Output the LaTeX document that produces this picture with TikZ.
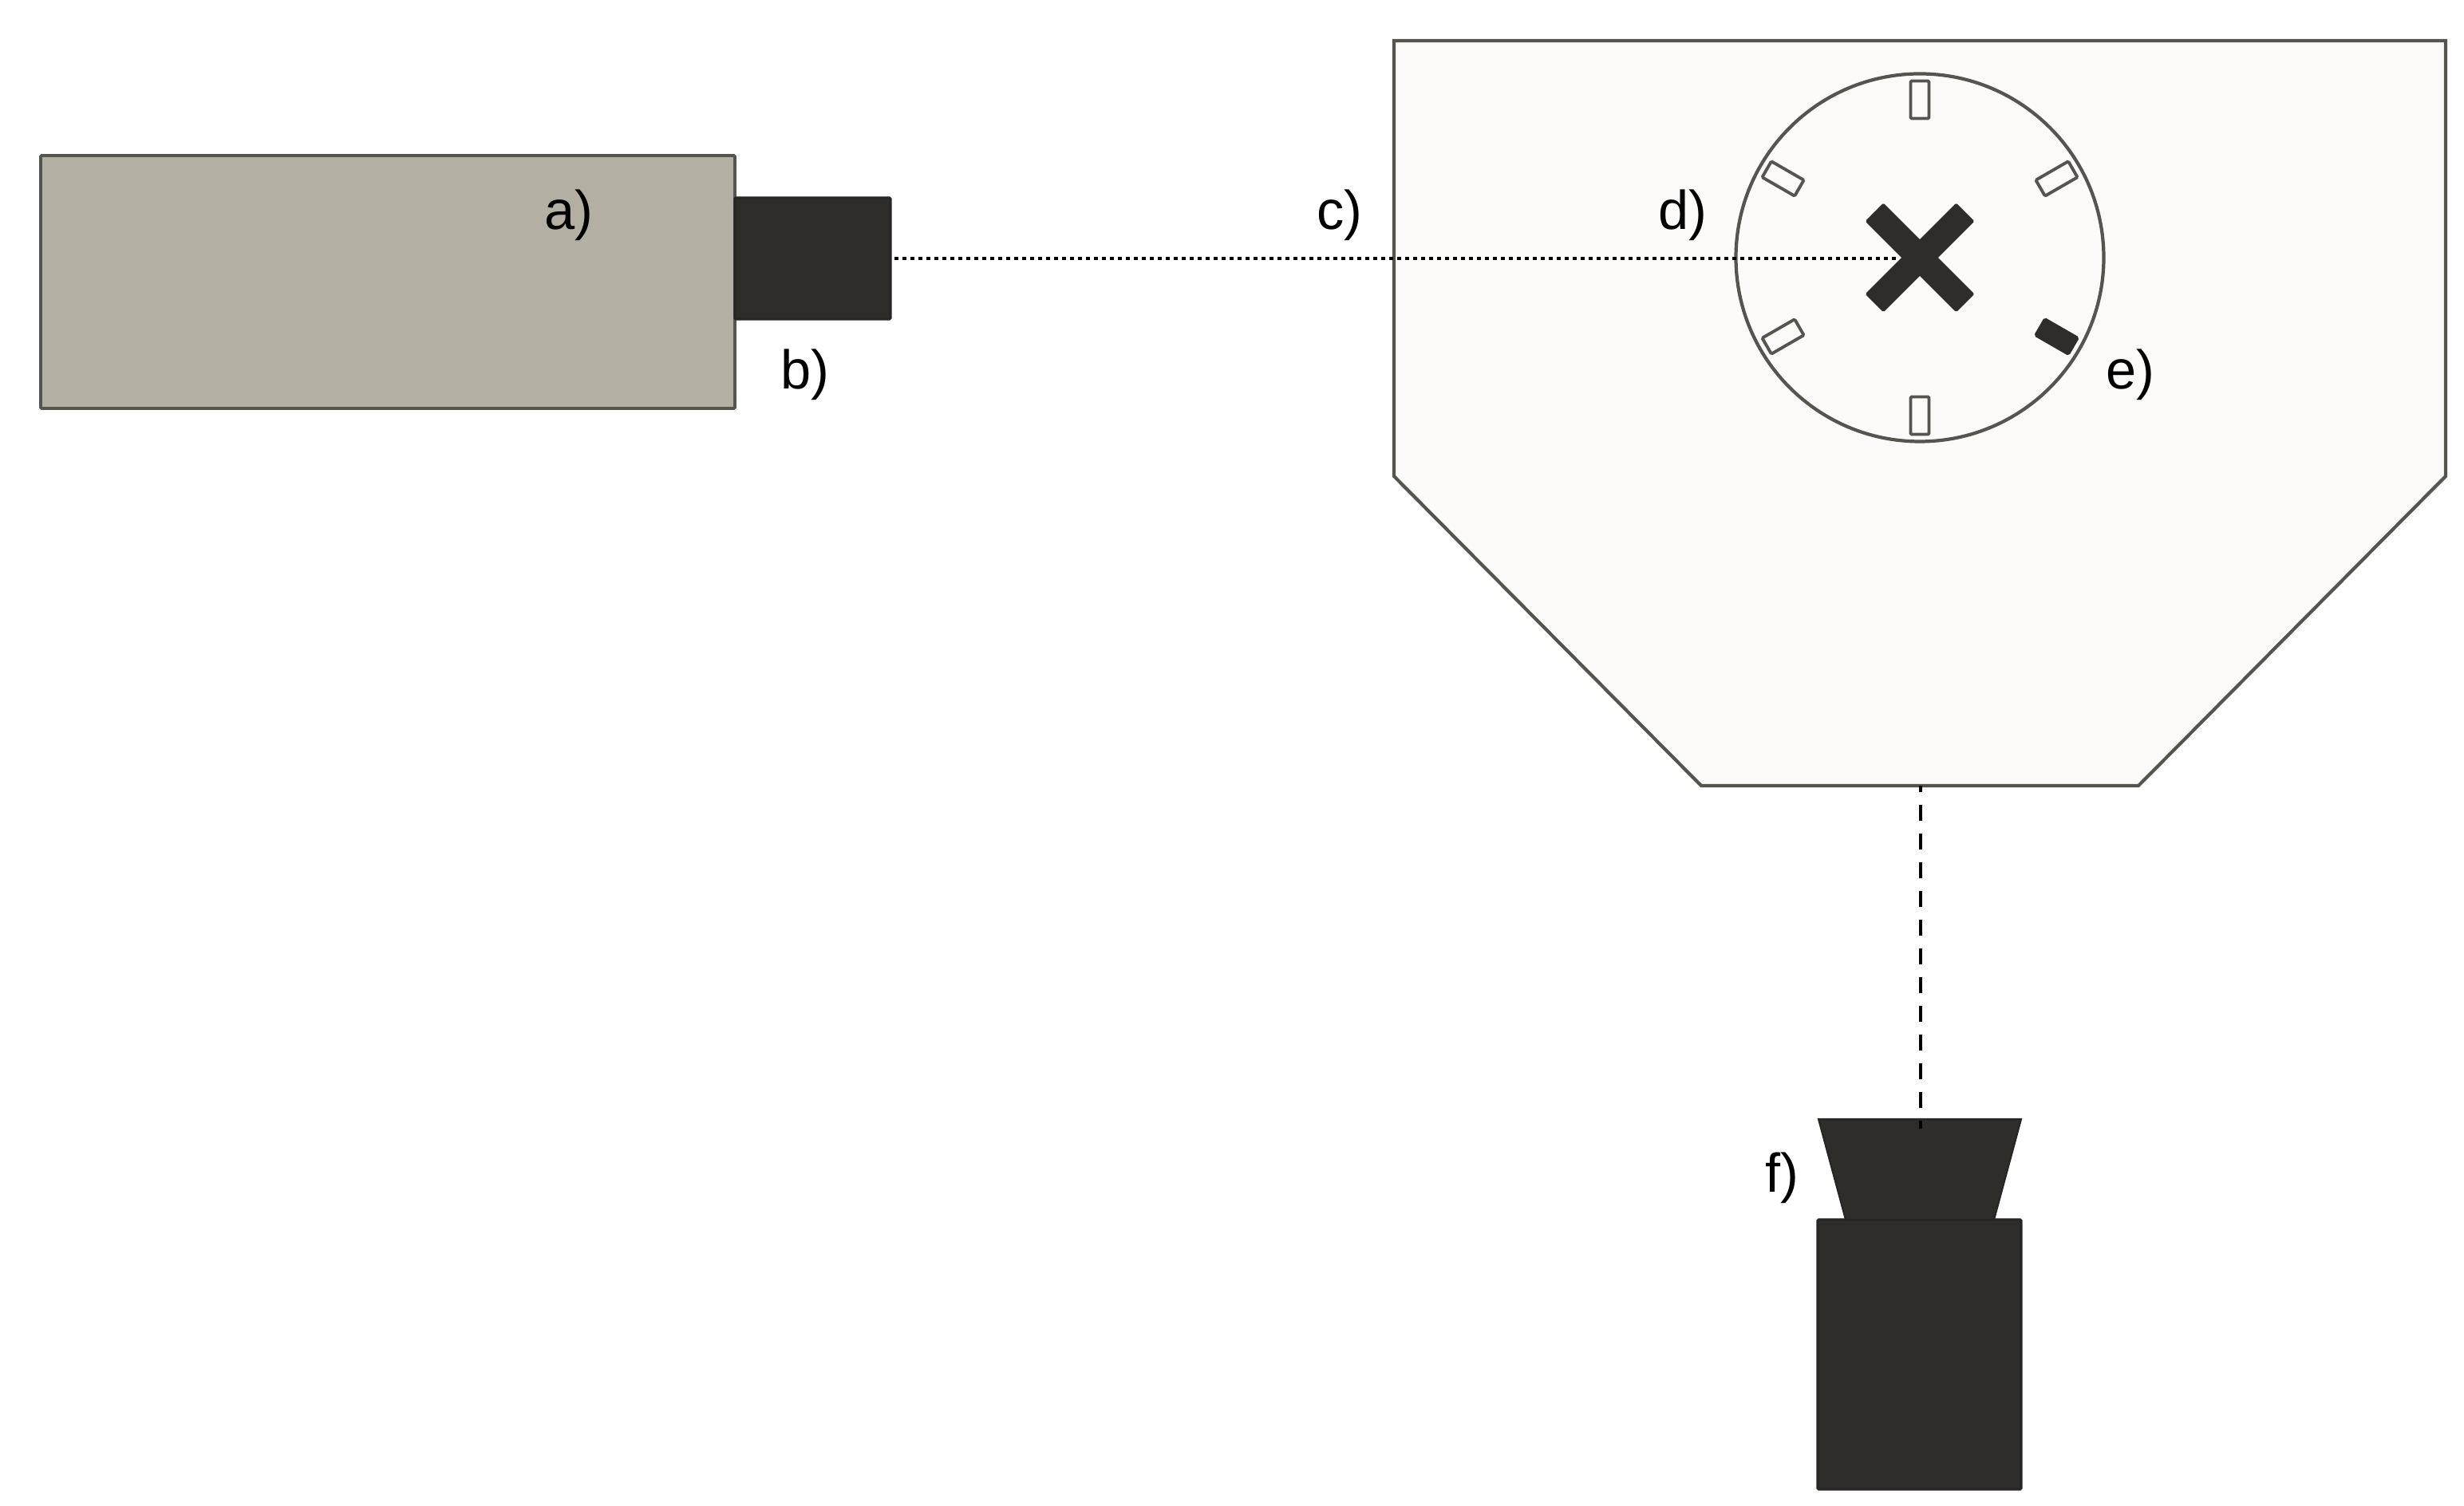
\documentclass[tikz,border=0pt]{standalone}
\usepackage{fontspec}
\setmainfont{Liberation Sans}
\usetikzlibrary{calc}
\definecolor{bodygrey}{HTML}{B3AFA2}
\definecolor{darkpart}{HTML}{2E2D29}
\definecolor{edgegrey}{HTML}{55554F}
\definecolor{hullfill}{HTML}{FBFAF8}
\tikzset{
	part/.style={draw, inner sep=0pt, outer sep=0pt, rounded corners=0.4pt},
	darkbox/.style={part, draw=black!85, fill=darkpart, line width=0.9pt},
	slot/.style={part, draw=edgegrey, fill=hullfill, line width=1.1pt, minimum width=0.47cm, minimum height=0.23cm},
	darkslot/.style={slot, draw=darkpart, fill=darkpart},
	arm/.style={part, draw=darkpart, fill=darkpart, minimum width=1.6cm, minimum height=0.31cm},
	tag/.style={inner sep=0pt, font=\fontsize{19.5}{19.5}\selectfont}
}
\begin{document}
\begin{tikzpicture}
	%%Location
	\useasboundingbox (0,0) rectangle (30.88,18.88);
	%%camera
	\node (camera) [part, draw=edgegrey, fill=bodygrey, line width=1.1pt, minimum width=8.70cm, minimum height=3.17cm, anchor=north west] at (0.51,16.93) {};
	\node (lens) [darkbox, minimum width=1.95cm, minimum height=1.52cm, anchor=west] at (9.21,15.64) {};
	%%hull
	\draw [draw=edgegrey, fill=hullfill, line width=1.2pt] (17.47,18.37) -- (30.65,18.37) -- (30.65,12.91) -- (26.80,9.03) -- (21.32,9.03) -- (17.47,12.91) -- cycle;
	\coordinate (hullout) at (24.07,9.03);
	%%disc
	\node (disc) [circle, draw=edgegrey, fill=hullfill, line width=1.2pt, minimum size=4.61cm, inner sep=0pt, outer sep=0pt] at (24.06,15.65) {};
	\foreach \ang/\nam in {30/ne,90/nn,150/nw,210/sw,270/ss}
		\node (slot\nam) [slot, rotate=\ang] at ($(disc.center)+(\ang:1.98)$) {};
	\node (slotse) [darkslot, rotate=-30] at ($(disc.center)+(-30:1.98)$) {};
	\node (armone) [arm, rotate=45] at (disc.center) {};
	\node (armtwo) [arm, rotate=-45] at (disc.center) {};
	%%detector
	\node (detector) [darkbox, minimum width=2.55cm, minimum height=3.38cm, anchor=south west] at (22.78,0.21) {};
	\draw [draw=black!85, fill=darkpart, line width=0.6pt] (22.79,4.85) -- (25.33,4.85) -- (24.99,3.59) -- (23.13,3.59) -- cycle;
	\coordinate (hornin) at (24.07,4.73);
	%%beams
	\coordinate (beamend) at (23.77,15.64);
	\draw [line width=1.3pt, dash pattern=on 5*0.2845pt off 5*0.2845pt, shorten <=0.05cm] (lens.east) -- (beamend);
	\draw [line width=1.3pt, dash pattern=on 20*0.2845pt off 16*0.2845pt, dash phase=12*0.2845pt] (hullout) -- (hornin);
	%%Label
	\node (taga) [tag] at (7.13,16.18) {a)};
	\node (tagb) [tag] at (10.09,14.18) {b)};
	\node (tagc) [tag] at (16.79,16.18) {c)};
	\node (tagd) [tag] at (21.09,16.18) {d)};
	\node (tage) [tag] at (26.70,14.18) {e)};
	\node (tagf) [tag] at (22.33,4.11) {f)};
\end{tikzpicture}
\end{document}
